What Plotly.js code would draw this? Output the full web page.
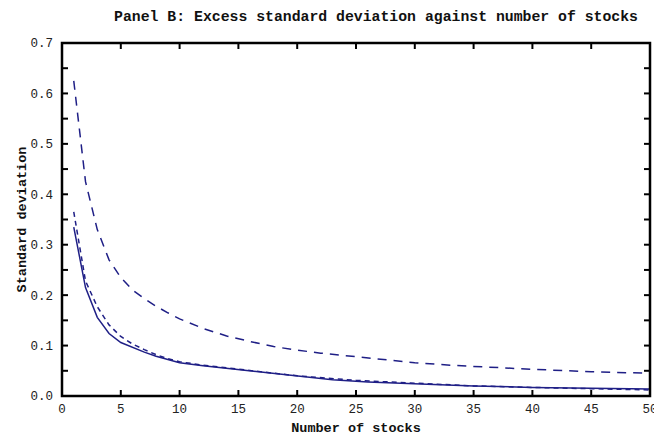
<!DOCTYPE html>
<html>
<head>
<meta charset="utf-8">
<script src="https://cdn.plot.ly/plotly-3.0.1.min.js"></script>
<style>html,body{margin:0;padding:0;background:#fff;}#chart{width:654px;height:442px;}</style>
</head>
<body>
<div id="chart"></div>
<script>
// Number of stocks (x) and standard deviation values
const nUpper = [1, 2, 3, 4, 5, 6, 7, 8, 9, 10, 12, 14, 16, 18, 20, 22, 25, 28, 30, 33, 36, 40, 45, 50];
const upperDashed = [0.625, 0.425, 0.33, 0.27, 0.235, 0.21, 0.193, 0.178, 0.165, 0.153, 0.134, 0.119, 0.108, 0.098, 0.091, 0.085, 0.078, 0.071, 0.066, 0.061, 0.057, 0.053, 0.048, 0.045];

const nMiddle = [1, 2, 3, 4, 5, 6, 7, 8, 9, 10, 12, 15, 20, 25, 30, 35, 40, 45, 50];
const middleDashed = [0.365, 0.228, 0.177, 0.141, 0.118, 0.103, 0.092, 0.082, 0.074, 0.068, 0.061, 0.053, 0.040, 0.031, 0.025, 0.020, 0.017, 0.014, 0.012];

const nSolid = [1, 2, 3, 4, 5, 6, 7, 8, 9, 10, 12, 15, 18, 20, 23, 26, 29, 32, 35, 40, 45, 50];
const solidLine = [0.335, 0.215, 0.156, 0.124, 0.106, 0.096, 0.087, 0.079, 0.072, 0.066, 0.060, 0.052, 0.044, 0.039, 0.032, 0.028, 0.025, 0.022, 0.020, 0.017, 0.015, 0.014];

const xTicks = [0, 5, 10, 15, 20, 25, 30, 35, 40, 45, 50];
const yTicks = [0.0, 0.1, 0.2, 0.3, 0.4, 0.5, 0.6, 0.7];
const yTickText = ['0.0', '0.1', '0.2', '0.3', '0.4', '0.5', '0.6', '0.7'];
const yAllTickMarks = [0.05, 0.1, 0.15, 0.2, 0.25, 0.3, 0.35, 0.4, 0.45, 0.5, 0.55, 0.6, 0.65];
const xTickMarks = [5, 10, 15, 20, 25, 30, 35, 40, 45];

const lineColor = '#1f1f86';

const traces = [
  {x: nUpper, y: upperDashed, mode: 'lines', line: {color: lineColor, width: 1.5, dash: '9px,7px'}, showlegend: false},
  {x: nMiddle, y: middleDashed, mode: 'lines', line: {color: lineColor, width: 1.5, dash: '5px,4px'}, showlegend: false},
  {x: nSolid, y: solidLine, mode: 'lines', line: {color: lineColor, width: 1.5}, showlegend: false}
];

const tickFont = {family: 'Liberation Mono, DejaVu Sans Mono, monospace', size: 12.5, color: '#222'};
const titleFont = {family: 'Liberation Mono, Courier New, monospace', size: 14.8, color: '#111', weight: 'bold'};
const axTitleFont = {family: 'Liberation Mono, Courier New, monospace', size: 13.5, color: '#111', weight: 'bold'};

// plot area in pixels (for tick length as a paper fraction)
const plotW = 654 - 62 - 4, plotH = 442 - 43 - 46, tickLen = 6;
const fx = tickLen / plotW, fy = tickLen / plotH;

const shapes = [];
xTickMarks.forEach(v => {
  shapes.push({type: 'line', xref: 'x', yref: 'paper', x0: v, x1: v, y0: 0, y1: fy, line: {color: '#000', width: 2}});
  shapes.push({type: 'line', xref: 'x', yref: 'paper', x0: v, x1: v, y0: 1 - fy, y1: 1, line: {color: '#000', width: 2}});
});
yAllTickMarks.forEach(v => {
  shapes.push({type: 'line', xref: 'paper', yref: 'y', x0: 0, x1: fx, y0: v, y1: v, line: {color: '#000', width: 2}});
  shapes.push({type: 'line', xref: 'paper', yref: 'y', x0: 1 - fx, x1: 1, y0: v, y1: v, line: {color: '#000', width: 2}});
});
shapes.push({type: 'rect', xref: 'paper', yref: 'paper', x0: 0, x1: 1, y0: 0, y1: 1, line: {color: '#000', width: 2.5}, fillcolor: 'rgba(0,0,0,0)', layer: 'above'});

const layout = {
  width: 654, height: 442,
  margin: {l: 62, r: 4, t: 43, b: 46, pad: 0},
  paper_bgcolor: '#fff', plot_bgcolor: '#fff',
  title: {text: 'Panel B: Excess standard deviation against number of stocks', font: titleFont, x: 0.575, xanchor: 'center', y: 0.965, yanchor: 'middle'},
  xaxis: {
    range: [0, 50], tickmode: 'array', tickvals: xTicks, ticktext: xTicks.map(String),
    ticks: '', showline: false, showgrid: false, zeroline: false, tickfont: tickFont,
    ticklabeloverflow: 'allow', ticklabelstandoff: 3,
    title: {text: 'Number of stocks', font: axTitleFont, standoff: 7}
  },
  yaxis: {
    range: [0, 0.7], tickmode: 'array', tickvals: yTicks, ticktext: yTickText,
    ticks: '', showline: false, showgrid: false, zeroline: false, tickfont: tickFont,
    ticklabelstandoff: 8,
    title: {text: 'Standard deviation', font: axTitleFont, standoff: 0}
  },
  shapes: shapes
};

Plotly.newPlot('chart', traces, layout, {displayModeBar: false});
</script>
</body>
</html>
